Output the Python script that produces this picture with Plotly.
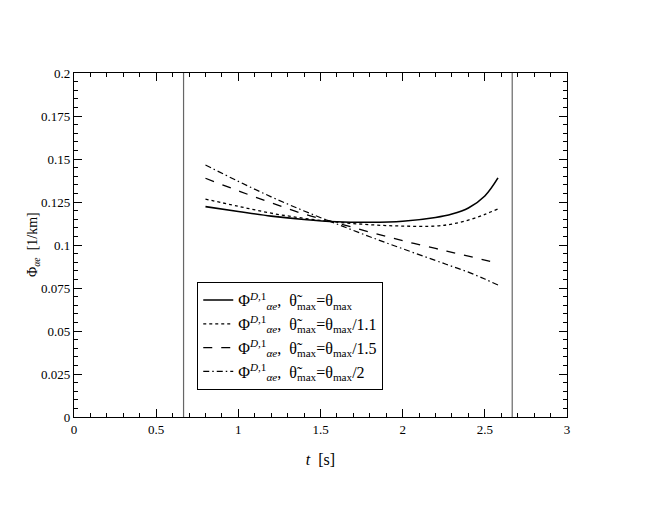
import plotly.graph_objects as go

t = [0.8, 1.0, 1.2, 1.4, 1.6, 1.8, 2.0, 2.2, 2.3, 2.4, 2.5, 2.58]
phi_1 = [0.1223, 0.1195, 0.1168, 0.1148, 0.1135, 0.1132, 0.1138, 0.1160, 0.1180, 0.1215, 0.1285, 0.1390]
phi_11 = [0.1267, 0.1225, 0.1185, 0.1155, 0.1133, 0.1118, 0.1110, 0.1110, 0.1122, 0.1145, 0.1178, 0.1210]
phi_15 = [0.1388, 0.1315, 0.1245, 0.1180, 0.1128, 0.1075, 0.1025, 0.0980, 0.0957, 0.0935, 0.0912, 0.0893]
phi_2 = [0.1465, 0.1370, 0.1280, 0.1198, 0.1122, 0.1048, 0.0978, 0.0910, 0.0876, 0.0842, 0.0802, 0.0767]
vlines = [2/3, 8/3]

base = "Φ<sup><i>D</i>,1</sup><sub><i>αe</i></sub>,  θ̃<sub>max</sub>=θ<sub>max</sub>"
series = [
    (phi_1, base, "solid", 1.6),
    (phi_11, base + "/1.1", "dot", 1.3),
    (phi_15, base + "/1.5", "dash", 1.3),
    (phi_2, base + "/2", "6px,3px,1.5px,3px", 1.2),
]

fig = go.Figure()
for y, name, dash, w in series:
    fig.add_trace(go.Scatter(x=t, y=y, mode="lines", name=name,
                             line=dict(color="black", dash=dash, width=w, shape="spline")))

for v in vlines:
    fig.add_shape(type="line", x0=v, x1=v, xref="x", y0=0, y1=1, yref="paper",
                  line=dict(color="#666666", width=1.2))

font = dict(family="Liberation Serif", size=13, color="black")
fig.update_layout(
    width=654, height=505,
    margin=dict(l=66, r=95, t=65, b=96),
    paper_bgcolor="white", plot_bgcolor="white",
    font=font,
    showlegend=True,
    legend=dict(x=0.25, y=0.392, xanchor="left", yanchor="top",
                bordercolor="black", borderwidth=1, bgcolor="white",
                font=dict(family="Liberation Serif", size=16), tracegroupgap=0,
                itemwidth=30),
)
axis_common = dict(showline=True, linecolor="black", linewidth=1.2, mirror="ticks",
                   ticks="inside", ticklen=8, tickcolor="black", tickwidth=1,
                   showgrid=False, zeroline=False)
fig.update_xaxes(range=[0, 3], dtick=0.5, tick0=0,
                 minor=dict(dtick=0.1, ticks="inside", ticklen=4, tickcolor="black"),
                 title=dict(text="<i>t</i>  [s]", standoff=18), **axis_common)
fig.update_yaxes(range=[0, 0.2], dtick=0.025, tick0=0,
                 minor=dict(dtick=0.005, ticks="inside", ticklen=4, tickcolor="black"),
                 **axis_common)
fig.add_annotation(text="Φ<sub><i>αe</i></sub>  [1/km]", textangle=-90,
                   xref="paper", yref="paper", x=-0.083, y=0.5,
                   xanchor="center", yanchor="middle", showarrow=False,
                   font=dict(family="Liberation Serif", size=14, color="black"))

fig.write_html("out.html")
